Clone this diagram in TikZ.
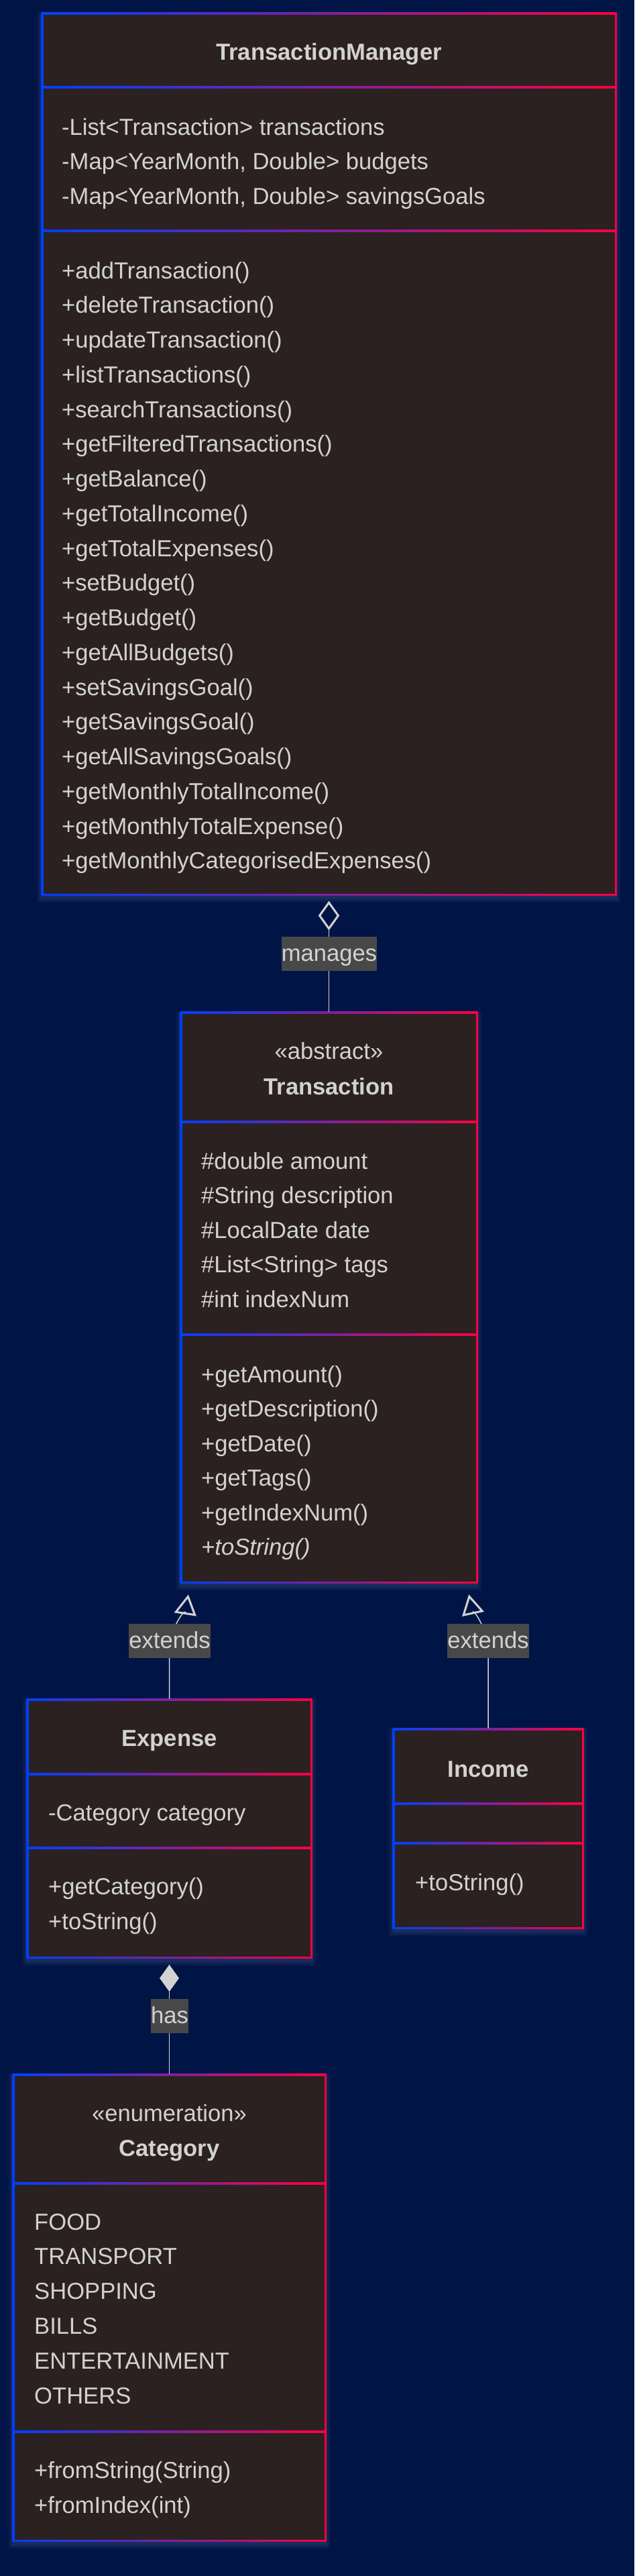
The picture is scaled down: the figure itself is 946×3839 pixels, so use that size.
\documentclass[tikz,border=0pt]{standalone}
\usepackage{fontspec}
\setmainfont{Liberation Sans}
\usetikzlibrary{calc,arrows.meta,shapes.geometric}
\definecolor{bgc}{RGB}{0,20,70}
\definecolor{boxc}{RGB}{43,33,32}
\definecolor{txtc}{RGB}{210,210,210}
\definecolor{lblc}{RGB}{72,72,72}
\definecolor{cblue}{RGB}{0,64,255}
\definecolor{cred}{RGB}{255,0,64}
\definecolor{linec}{RGB}{210,210,210}
\definecolor{haloc}{RGB}{170,180,220}
\tikzset{
  classbox/.style={rectangle, inner sep=0pt, outer sep=0pt, anchor=north west, left color=cblue, right color=cred},
  grad/.style={left color=cblue, right color=cred},
  txt/.style={text=txtc, anchor=base west, inner sep=0pt, font=\fontsize{34.6}{40}\selectfont},
  ttl/.style={txt, anchor=base, font=\fontsize{34.6}{40}\selectfont\bfseries},
  ster/.style={txt, anchor=base},
  lbl/.style={fill=lblc, text=txtc, inner xsep=0pt, inner ysep=0pt, minimum height=51pt, text height=32pt, text depth=11pt, font=\fontsize{34.6}{40}\selectfont},
  edge/.style={draw=linec, line width=1.5pt},
  extarrow/.style={-{Triangle[open, length=30pt, width=33pt, line width=3pt]}},
}
\newcommand\umlclass[5]{%
  \foreach \k in {1,...,8}{\fill[haloc, opacity=0.022] (#2-\k, #3-\k+5) rectangle (#4+\k, #5+\k+5);}
  \pgfmathsetmacro\uw{#4-#2+3}\pgfmathsetmacro\uh{#5-#3+3}
  \node[classbox, minimum width=\uw pt, minimum height=\uh pt] (#1) at (#2-1.5,#3-1.5) {};
  \fill[boxc] (#2+1.5,#3+1.5) rectangle (#4-1.5,#5-1.5);
}
\newcommand\umldiv[3]{\shade[grad] (#1,#3-1.5) rectangle (#2,#3+1.5);}
\begin{document}
\begin{tikzpicture}[x=1pt,y=-1pt]
\useasboundingbox (0,0) rectangle (946,3839);
\fill[bgc] (0,0) rectangle (946,3839);

% ---------- TransactionManager
\umlclass{tm}{63}{20}{918}{1333}
\umldiv{63}{918}{130}
\umldiv{63}{918}{344}
\node[ttl] (tmt) at (490.5,89.5) {TransactionManager};
\foreach \t [count=\i] in {-List<Transaction> transactions,{-Map<YearMonth, Double> budgets},{-Map<YearMonth, Double> savingsGoals}}
  {\node[txt] (tma\i) at (92,{201+51.7*(\i-1)}) {\t};}
\foreach \t [count=\i] in {+addTransaction(),+deleteTransaction(),+updateTransaction(),+listTransactions(),+searchTransactions(),+getFilteredTransactions(),+getBalance(),+getTotalIncome(),+getTotalExpenses(),+setBudget(),+getBudget(),+getAllBudgets(),+setSavingsGoal(),+getSavingsGoal(),+getAllSavingsGoals(),+getMonthlyTotalIncome(),+getMonthlyTotalExpense(),+getMonthlyCategorisedExpenses()}
  {\node[txt] (tmm\i) at (92,{415+51.76*(\i-1)}) {\t};}

% ---------- Transaction
\umlclass{tr}{270}{1509}{711}{2358}
\umldiv{270}{711}{1672}
\umldiv{270}{711}{1989}
\node[ster] (trs) at (490.5,1578) {«abstract»};
\node[ttl] (trt) at (490.5,1631) {Transaction};
\foreach \t [count=\i] in {\#double amount,\#String description,\#LocalDate date,\#List<String> tags,\#int indexNum}
  {\node[txt] (tra\i) at (300,{1742+51.5*(\i-1)}) {\t};}
\foreach \t [count=\i] in {+getAmount(),+getDescription(),+getDate(),+getTags(),+getIndexNum()}
  {\node[txt] (trm\i) at (300,{2060+51.5*(\i-1)}) {\t};}
\node[txt, font=\fontsize{34.6}{40}\selectfont\itshape] (trm6) at (300,2317) {+toString()};

% ---------- Expense
\umlclass{ex}{41}{2533}{464}{2917}
\umldiv{41}{464}{2644}
\umldiv{41}{464}{2754}
\node[ttl] (ext) at (252.5,2602) {Expense};
\node[txt] (exa1) at (72,2713) {-Category category};
\node[txt] (exm1) at (72,2823) {+getCategory()};
\node[txt] (exm2) at (72,2875) {+toString()};

% ---------- Income
\umlclass{in}{587}{2577}{869}{2873}
\umldiv{587}{869}{2688}
\umldiv{587}{869}{2747}
\node[ttl] (int) at (728,2648) {Income};
\node[txt] (inm1) at (619,2817) {+toString()};

% ---------- Category
\umlclass{cat}{20}{3092}{485}{3786}
\umldiv{20}{485}{3254}
\umldiv{20}{485}{3624}
\node[ster] (cats) at (252.5,3161) {«enumeration»};
\node[ttl] (catt) at (252.5,3213) {Category};
\foreach \t [count=\i] in {FOOD,TRANSPORT,SHOPPING,BILLS,ENTERTAINMENT,OTHERS}
  {\node[txt] (catv\i) at (51,{3323+51.8*(\i-1)}) {\t};}
\node[txt] (catm1) at (51,3693) {+fromString(String)};
\node[txt] (catm2) at (51,3745) {+fromIndex(int)};

% ---------- manages (aggregation)
\node[diamond, draw=linec, line width=3pt, fill=bgc, inner sep=0pt, minimum width=29pt, minimum height=40pt] (agg) at (490.5,1364.5) {};
\draw[edge] (agg.south) -- (tr.north);
\node[lbl] (lman) at (491,1421.5) {manages};

% ---------- extends
\draw[edge, extarrow, shorten >=17pt] (ex.north) -- ++(0,-73) .. controls +(0,-30) and +(-5,32) .. ($(tr.south west)+(15,0)$);
\node[lbl] (lext1) at (253,2445.5) {extends};
\draw[edge, extarrow, shorten >=17pt] (in.north) -- ++(0,-117) .. controls +(0,-30) and +(7,32) .. ($(tr.south east)+(-17,0)$);
\node[lbl] (lext2) at (728,2445.5) {extends};

% ---------- has (composition)
\node[diamond, draw=linec, line width=1pt, fill=linec, inner sep=0pt, minimum width=28pt, minimum height=39pt] (comp) at (252.5,2948) {};
\draw[edge] (comp.south) -- (cat.north);
\node[lbl] (lhas) at (253,3004.5) {has};
\end{tikzpicture}
\end{document}
